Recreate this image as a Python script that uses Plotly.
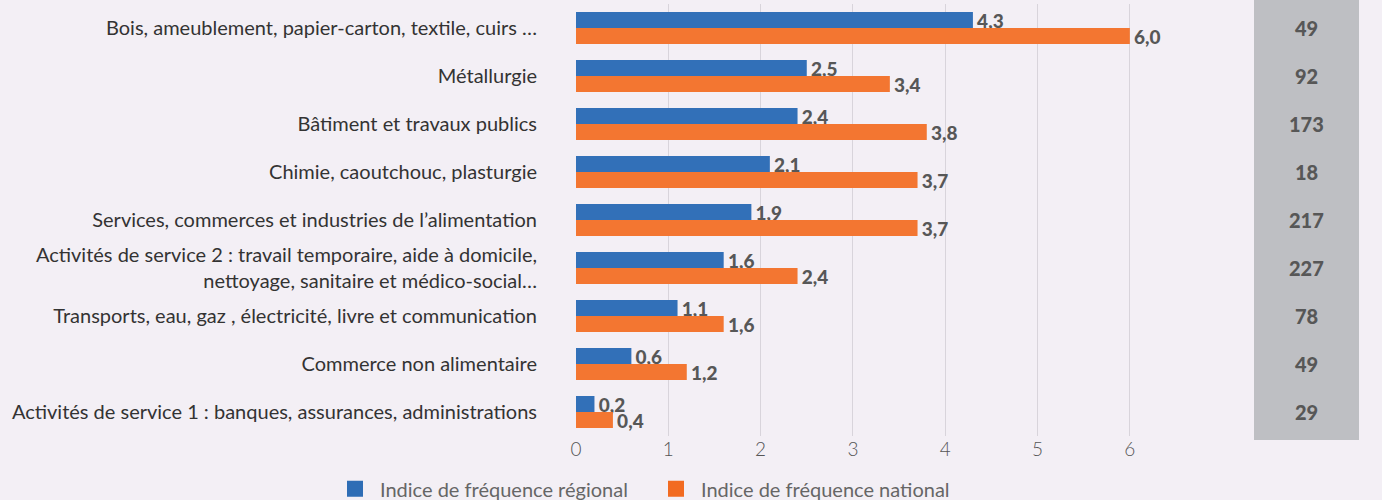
import plotly.graph_objects as go

categories = [
    "Bois, ameublement, papier-carton, textile, cuirs …",
    "Métallurgie",
    "Bâtiment et travaux publics",
    "Chimie, caoutchouc, plasturgie",
    "Services, commerces et industries de l’alimentation",
    "Activités de service 2 : travail temporaire, aide à domicile,<br>nettoyage, sanitaire et médico-social…",
    "Transports, eau, gaz , électricité, livre et communication",
    "Commerce non alimentaire",
    "Activités de service 1 : banques, assurances, administrations",
]
regional = [4.3, 2.5, 2.4, 2.1, 1.9, 1.6, 1.1, 0.6, 0.2]
national = [6.0, 3.4, 3.8, 3.7, 3.7, 2.4, 1.6, 1.2, 0.4]
effectifs = [49, 92, 173, 18, 217, 227, 78, 49, 29]
x_ticks = [0, 1, 2, 3, 4, 5, 6]
series_names = ["Indice de fréquence régional", "Indice de fréquence national"]

BG = "#f3eff5"
BLUE = "#3270b8"
ORANGE = "#f37631"
BLUE_LEG = "#2e6db5"
ORANGE_LEG = "#f26b21"
FONT = "Lato"
LABEL_COLOR = "#575757"

fig = go.Figure()
for vals, col in [(regional, BLUE), (national, ORANGE)]:
    fig.add_trace(go.Bar(
        y=categories, x=vals, orientation="h", showlegend=False,
        marker=dict(color=col, line=dict(width=0)),
        texttemplate="\u200a%{x:.1f}", textposition="outside", cliponaxis=False,
        constraintext="none", hoverinfo="skip",
        textfont=dict(family=FONT, size=19, color=LABEL_COLOR, weight=900),
    ))

# legend-only entries with larger square swatches
for name, col in zip(series_names, [BLUE_LEG, ORANGE_LEG]):
    fig.add_trace(go.Scatter(
        x=[None], y=[None], mode="markers", name=name,
        marker=dict(symbol="square", size=20, color=col),
    ))

W, H = 1382, 500
L, T, B = 576, 4, 64
plot_w = W - L
xmax = 6.5
x_end_px = 1176
dom_end = (x_end_px - L) / plot_w
plot_h = H - T - B

def px_to_paper_x(px):
    return (px - L) / plot_w

def py_to_paper_y(py):
    return (H - B - py) / plot_h

fig.add_shape(type="rect", xref="paper", yref="paper",
              x0=px_to_paper_x(1254), x1=px_to_paper_x(1359),
              y0=py_to_paper_y(440), y1=py_to_paper_y(-2),
              fillcolor="#bebfc3", line=dict(width=0), layer="below")

for cat, n in zip(categories, effectifs):
    fig.add_annotation(x=px_to_paper_x(1306.5), xref="paper", xanchor="center",
                       y=cat, yref="y", yanchor="middle",
                       text=str(n), showarrow=False,
                       font=dict(family=FONT, size=20, color=LABEL_COLOR, weight=900))

fig.update_layout(
    width=W, height=H,
    margin=dict(l=L, r=0, t=T, b=B, pad=0, autoexpand=False),
    paper_bgcolor=BG, plot_bgcolor=BG,
    barmode="group", bargap=1/3, bargroupgap=0,
    separators=", ",
    font=dict(family=FONT, size=20, color="#333333"),
    xaxis=dict(domain=[0, dom_end], range=[0, xmax], tickvals=x_ticks,
               showgrid=True, gridcolor="#d8d4db", gridwidth=1, zeroline=False,
               showline=False, ticks="",
               tickfont=dict(family=FONT, size=19, color="#555555", weight=300)),
    yaxis=dict(autorange="reversed", showgrid=False, showline=False, ticks="outside",
               ticklen=34, tickcolor="rgba(0,0,0,0)",
               tickfont=dict(family=FONT, size=20, color="#333333")),
    legend=dict(orientation="h", x=px_to_paper_x(330), xanchor="left", y=-0.077, yanchor="top",
                font=dict(family=FONT, size=20, color="#666666"),
                bgcolor="rgba(0,0,0,0)", itemwidth=40, entrywidth=266),
    showlegend=True,
)

fig.write_html("out.html", config={"displayModeBar": False},
               post_script="document.body.style.margin='0';document.body.style.background='#f3eff5';")
